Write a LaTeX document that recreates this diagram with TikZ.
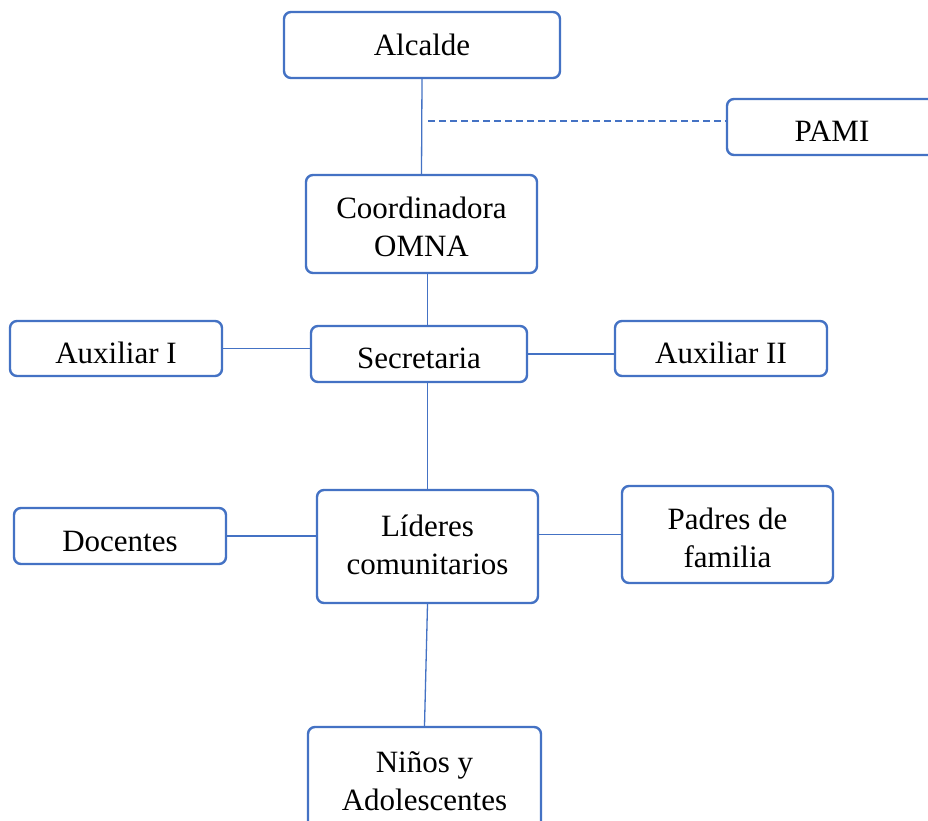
\documentclass[tikz,border=0pt]{standalone}
\usepackage{fontspec}
\setmainfont{Liberation Serif}
\definecolor{boxblue}{HTML}{4472C4}
\begin{document}
\begin{tikzpicture}[x=1pt,y=-1pt,
  box/.style={draw=boxblue, line width=2.4pt, rounded corners=7pt, fill=white,
    inner sep=0pt},
  txt/.style={align=center, inner sep=0pt, font=\fontsize{31}{38}\selectfont},
  conn/.style={draw=boxblue, line width=1.3pt},
  dconn/.style={draw=boxblue, line width=1.3pt, dash pattern=on 7pt off 4pt}]
\useasboundingbox[fill=white] (0,0) rectangle (928,821);
\node[box, minimum width=276pt, minimum height=66pt,
  label={[txt]center:Alcalde}] (alc) at (422,45) {};
\node[box, minimum width=210pt, minimum height=56pt,
  label={[txt, yshift=-4pt]center:PAMI}] (pami) at (832,127) {};
\node[box, minimum width=231pt, minimum height=98pt,
  label={[txt, yshift=-3pt]center:Coordinadora\\OMNA}] (coord) at (421.5,224) {};
\node[box, minimum width=216pt, minimum height=56pt,
  label={[txt, yshift=-4pt]center:Secretaria}] (sec) at (419,354) {};
\node[box, minimum width=212pt, minimum height=55pt,
  label={[txt, yshift=-4pt]center:Auxiliar I}] (aux1) at (116,348.5) {};
\node[box, minimum width=212pt, minimum height=55pt,
  label={[txt, yshift=-4pt]center:Auxiliar II}] (aux2) at (721,348.5) {};
\node[box, minimum width=221pt, minimum height=113pt,
  label={[txt, yshift=2pt]center:Líderes\\comunitarios}] (lid) at (427.5,546.5) {};
\node[box, minimum width=212pt, minimum height=56pt,
  label={[txt, yshift=-5pt]center:Docentes}] (doc) at (120,536) {};
\node[box, minimum width=211pt, minimum height=97pt,
  label={[txt, yshift=-3pt]center:Padres de\\familia}] (pad) at (727.5,534.5) {};
\node[box, minimum width=233pt, minimum height=108pt,
  label={[txt]center:Niños y\\Adolescentes}] (nin) at (424.5,781) {};
\coordinate (dstart) at (428,121);
\draw[conn] (alc.south) -- (coord.north);
\draw[dconn] (dstart) -- (dstart -| pami.west);
\draw[conn] (coord.south -| lid.north) -- (sec.north -| lid.north);
\draw[conn] (aux1.east) -- (aux1.east -| sec.west);
\draw[conn] (sec.east) -- (sec.east -| aux2.west);
\draw[conn] (sec.south -| lid.north) -- (lid.north);
\draw[conn] (doc.east) -- (doc.east -| lid.west);
\draw[conn] (pad.west) -- (pad.west -| lid.east);
\draw[conn] (lid.south) -- (nin.north);
\end{tikzpicture}
\end{document}
